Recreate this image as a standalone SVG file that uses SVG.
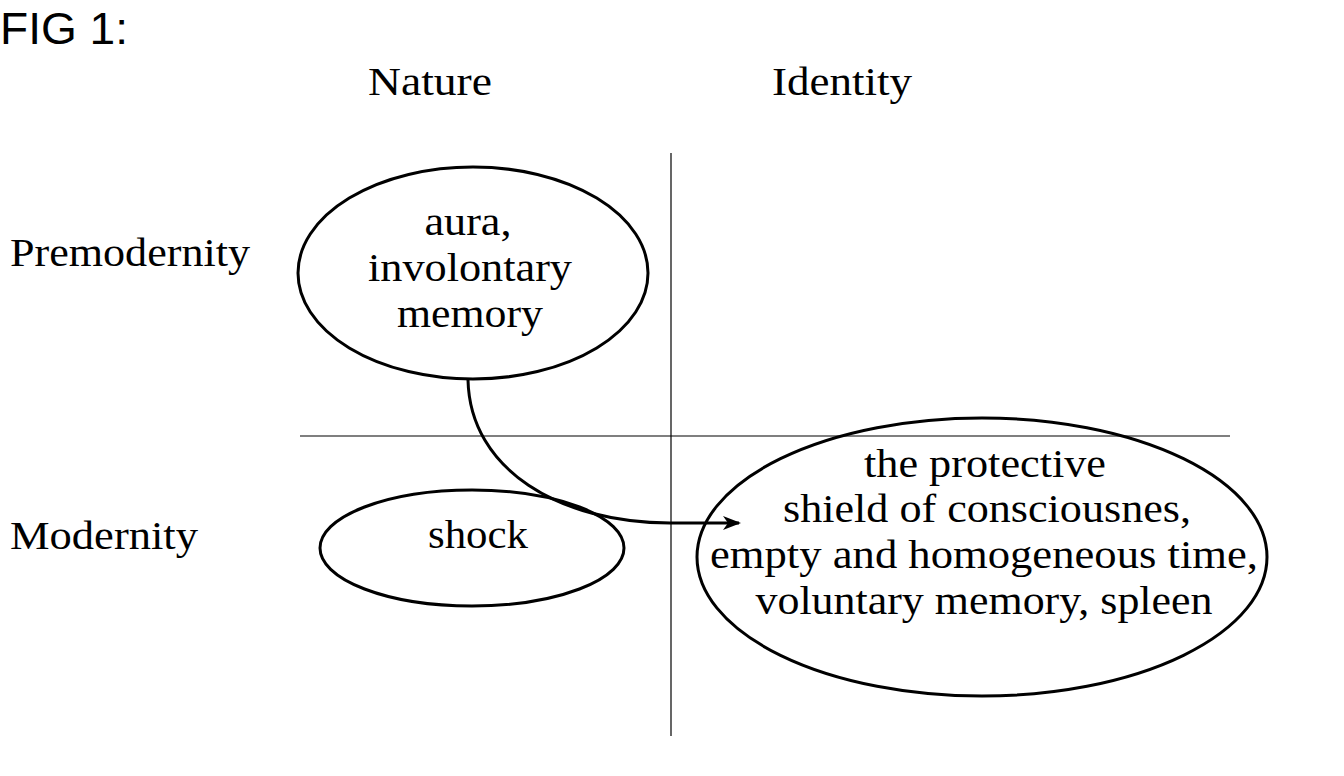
<svg xmlns="http://www.w3.org/2000/svg" width="1344" height="776" viewBox="0 0 1344 776">
<defs>
<style>
.t{font-family:"Liberation Serif",serif;font-size:39px;fill:#000}
.m{text-anchor:middle}
.s{fill:none;stroke:#000}
</style>
<marker id="ah" markerWidth="18" markerHeight="14" refX="16" refY="7" orient="auto" markerUnits="userSpaceOnUse">
<path d="M0,0 L18,7 L0,14 L5,7 Z" fill="#000"/>
</marker>
</defs>
<rect width="1344" height="776" fill="#fff"/>
<text x="0" y="44" font-family="Liberation Sans,sans-serif" font-size="44" textLength="128" lengthAdjust="spacingAndGlyphs">FIG 1:</text>
<text class="t m" x="430" y="95" textLength="124" lengthAdjust="spacingAndGlyphs">Nature</text>
<text class="t m" x="842" y="95" textLength="140" lengthAdjust="spacingAndGlyphs">Identity</text>
<text class="t" x="10" y="266" textLength="240" lengthAdjust="spacingAndGlyphs">Premodernity</text>
<text class="t" x="10" y="549" textLength="188" lengthAdjust="spacingAndGlyphs">Modernity</text>
<g id="axes">
<line class="s" x1="671" y1="153" x2="671" y2="736" stroke-width="1.2"/>
<line class="s" x1="300" y1="436" x2="1230" y2="436" stroke-width="1.2"/>
</g>
<g id="aura">
<ellipse class="s" cx="473" cy="273" rx="175" ry="106" stroke-width="3"/>
<text class="t m" x="468" y="235" textLength="87" lengthAdjust="spacingAndGlyphs">aura,</text>
<text class="t m" x="470" y="281" textLength="204" lengthAdjust="spacingAndGlyphs">involontary</text>
<text class="t m" x="470" y="327" textLength="146" lengthAdjust="spacingAndGlyphs">memory</text>
</g>
<g id="shock">
<ellipse class="s" cx="472" cy="548" rx="152" ry="58" stroke-width="3"/>
<text class="t m" x="478" y="548" textLength="100" lengthAdjust="spacingAndGlyphs">shock</text>
</g>
<g id="shield">
<ellipse class="s" cx="982" cy="557" rx="285" ry="139" stroke-width="3"/>
<text class="t m" x="985" y="477" textLength="242" lengthAdjust="spacingAndGlyphs">the protective</text>
<text class="t m" x="987" y="522" textLength="408" lengthAdjust="spacingAndGlyphs">shield of consciousnes,</text>
<text class="t m" x="984" y="568" textLength="548" lengthAdjust="spacingAndGlyphs">empty and homogeneous time,</text>
<text class="t m" x="984" y="614" textLength="457" lengthAdjust="spacingAndGlyphs">voluntary memory, spleen</text>
</g>
<g id="connectors">
<path class="s" stroke-width="3" d="M468,380 C470,470 560,523 670,523 L739,523" marker-end="url(#ah)"/>
</g>
</svg>
